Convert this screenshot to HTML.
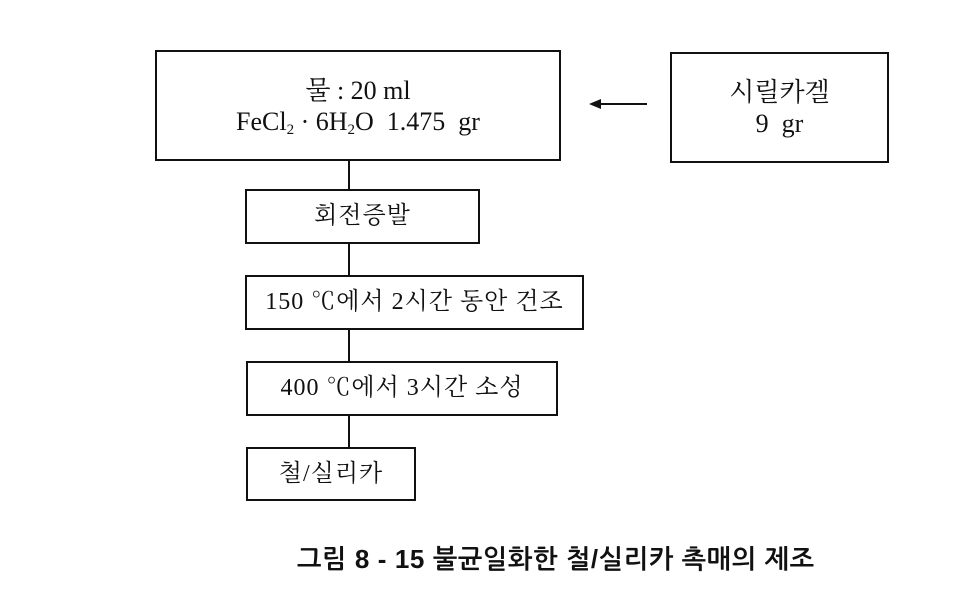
<!DOCTYPE html>
<html><head><meta charset="utf-8"><style>
body{margin:0;width:965px;height:593px;background:#fff;position:relative;overflow:hidden;font-family:"Liberation Serif","Noto Serif CJK SC","Noto Sans CJK KR",serif;color:#111}
.b{position:absolute;border:2px solid #111;box-sizing:border-box;display:flex;flex-direction:column;align-items:center;justify-content:center;font-size:24px;line-height:31px;white-space:nowrap}
.v{position:absolute;width:2px;background:#111;left:348px}
sub{font-size:15px;vertical-align:-4px;line-height:0}
</style></head><body>
<div class="b" style="left:155px;top:50px;width:406px;height:111px;font-size:26px"><div>물 : 20 ml</div><div>FeCl<sub>2</sub> · 6H<sub>2</sub>O&nbsp; 1.475&nbsp; gr</div></div>
<div class="b" style="left:670px;top:52px;width:219px;height:111px;font-size:26px"><div>시릴카겔</div><div>9&nbsp; gr</div></div>
<svg style="position:absolute;left:585px;top:96px" width="70" height="16"><line x1="10" y1="8" x2="62" y2="8" stroke="#111" stroke-width="2"/><polygon points="4,8 16,3 16,13" fill="#111"/></svg>
<div class="v" style="top:161px;height:28px"></div>
<div class="b" style="left:245px;top:189px;width:235px;height:55px;letter-spacing:1px">회전증발</div>
<div class="v" style="top:244px;height:31px"></div>
<div class="b" style="left:245px;top:275px;width:339px;height:55px;letter-spacing:1px">150 ℃에서 2시간 동안 건조</div>
<div class="v" style="top:330px;height:31px"></div>
<div class="b" style="left:246px;top:361px;width:312px;height:55px;letter-spacing:1px">400 ℃에서 3시간 소성</div>
<div class="v" style="top:416px;height:31px"></div>
<div class="b" style="left:246px;top:447px;width:170px;height:54px;letter-spacing:1px">철/실리카</div>
<div style="position:absolute;left:297px;top:544px;width:530px;font-family:'Liberation Sans','NanumGothic','Noto Sans CJK KR',sans-serif;font-weight:bold;font-size:26px;letter-spacing:0.6px;white-space:nowrap">그림 8 - 15 불균일화한 철/실리카 촉매의 제조</div>
</body></html>
